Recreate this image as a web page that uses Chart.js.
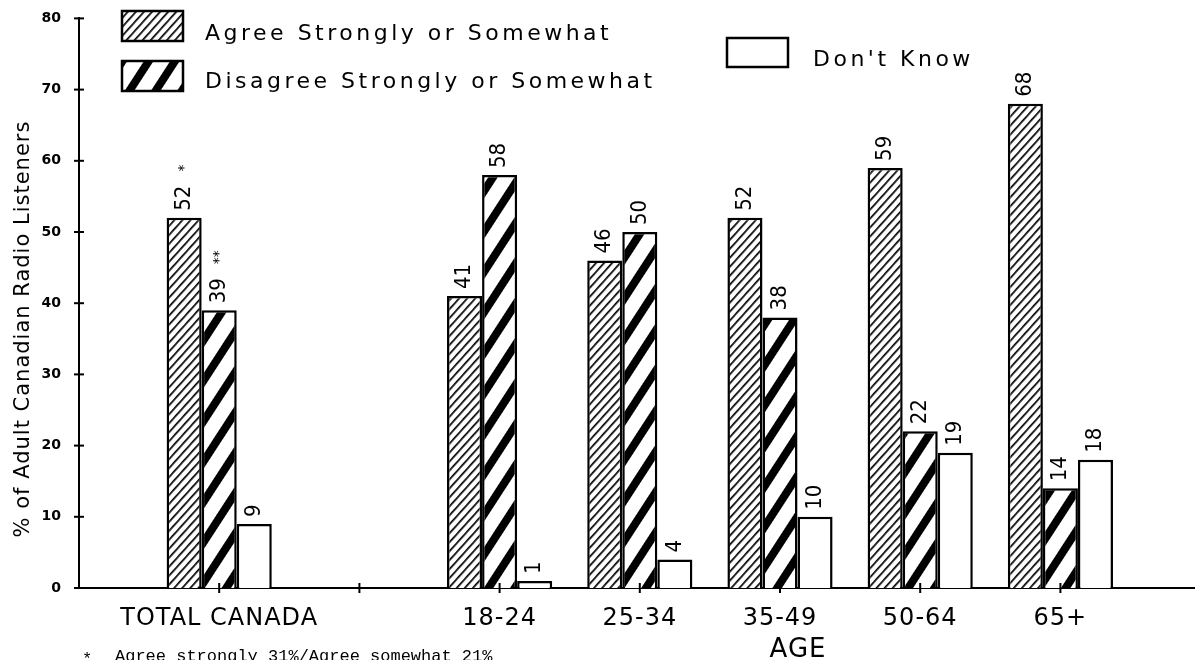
<!DOCTYPE html>
<html>
<head>
<meta charset="utf-8">
<script src="https://cdn.jsdelivr.net/npm/chart.js@4/dist/chart.umd.min.js"></script>
<style>
  html, body { margin: 0; padding: 0; background: #fff; }
</style>
</head>
<body>
<canvas id="grafico" width="1195" height="660"></canvas>
<script>
var categorias = ['TOTAL CANADA', '', '18-24', '25-34', '35-49', '50-64', '65+'];
var concorda = [52, null, 41, 46, 52, 59, 68];
var discorda = [39, null, 58, 50, 38, 22, 14];
var naoSabe = [9, null, 1, 4, 10, 19, 18];
var notasConcorda = ['*', '', '', '', '', '', ''];
var notasDiscorda = ['**', '', '', '', '', '', ''];
var legendas = ['Agree Strongly or Somewhat', 'Disagree Strongly or Somewhat', "Don't Know"];
var marcasY = [0, 10, 20, 30, 40, 50, 60, 70, 80];
var tituloY = '% of Adult Canadian Radio Listeners';
var tituloX = 'AGE';
var notaRodape = 'Agree strongly 31%/Agree somewhat 21%';

var canvas = document.getElementById('grafico');
var ctx = canvas.getContext('2d');

// hachuras: listras verticais giradas
function criarHachura(periodo, espessura, angulo) {
    var tile = document.createElement('canvas');
    tile.width = periodo;
    tile.height = periodo;
    var c = tile.getContext('2d');
    c.fillStyle = '#fff';
    c.fillRect(0, 0, periodo, periodo);
    c.fillStyle = '#000';
    c.fillRect(0, 0, espessura, periodo);
    var p = ctx.createPattern(tile, 'repeat');
    p.setTransform(new DOMMatrix().rotate(angulo));
    return p;
}

var hachuraFina = criarHachura(6, 1.7, 42);
var hachuraGrossa = criarHachura(22, 8, 33);

function pontos(valores) {
    return valores.map(function (v, i) { return { x: i, y: v }; });
}

function textoGirado(texto, x, y) {
    ctx.save();
    ctx.translate(x, y);
    ctx.rotate(-Math.PI / 2);
    ctx.fillText(texto, 0, 0);
    ctx.restore();
}

function caixaLegenda(x0, y0, w, h, preenchimento) {
    ctx.fillStyle = preenchimento;
    ctx.fillRect(x0, y0, w, h);
    ctx.lineWidth = 2.5;
    ctx.strokeStyle = '#000';
    ctx.strokeRect(x0, y0, w, h);
}

var desenhosExtras = {
    id: 'desenhosExtras',
    afterDraw: function (chart) {
        var x = chart.scales.x;
        var y = chart.scales.y;
        ctx.save();
        ctx.strokeStyle = '#000';
        ctx.fillStyle = '#000';
        ctx.lineWidth = 2;

        marcasY.forEach(function (v) {
            var py = y.getPixelForValue(v);
            ctx.beginPath();
            ctx.moveTo(x.left - 5, py);
            ctx.lineTo(x.left + 5, py);
            ctx.stroke();
        });

        ctx.font = '24px "DejaVu Sans"';
        ctx.letterSpacing = '1px';
        ctx.textAlign = 'center';
        ctx.textBaseline = 'middle';
        categorias.forEach(function (c, i) {
            var px = x.getPixelForValue(i);
            ctx.beginPath();
            ctx.moveTo(px, y.bottom - 5);
            ctx.lineTo(px, y.bottom + 5);
            ctx.stroke();
            ctx.fillText(c, px, 619);
        });

        // valores em cima das barras
        ctx.letterSpacing = '0px';
        ctx.textAlign = 'left';
        var series = [concorda, discorda, naoSabe];
        var notas = [notasConcorda, notasDiscorda, null];
        series.forEach(function (valores, d) {
            var meta = chart.getDatasetMeta(d);
            valores.forEach(function (v, i) {
                if (v === null) return;
                var barra = meta.data[i];
                ctx.font = '22px "Liberation Sans Narrow", "DejaVu Sans Condensed", sans-serif';
                var largura = ctx.measureText(String(v)).width;
                textoGirado(String(v), barra.x, barra.y - 7);
                if (notas[d] && notas[d][i]) {
                    ctx.font = '14px "DejaVu Sans"';
                    textoGirado(notas[d][i], barra.x, barra.y - 7 - largura - 14);
                }
            });
        });

        // legenda
        caixaLegenda(122, 11, 61, 30, hachuraFina);
        caixaLegenda(122, 61, 61, 30, hachuraGrossa);
        caixaLegenda(727, 38, 61, 29, '#fff');
        ctx.fillStyle = '#000';
        ctx.font = '22px "DejaVu Sans"';
        ctx.letterSpacing = '3.5px';
        ctx.textAlign = 'left';
        ctx.fillText(legendas[0], 205, 34);
        ctx.fillText(legendas[1], 205, 82);
        ctx.fillText(legendas[2], 813, 60);

        // titulo do eixo y
        ctx.font = '21px "DejaVu Sans"';
        ctx.letterSpacing = '1px';
        ctx.textAlign = 'center';
        textoGirado(tituloY, 24, 329);

        ctx.font = '26px "DejaVu Sans"';
        ctx.letterSpacing = '1px';
        ctx.fillText(tituloX, 798, 650);

        ctx.font = '17px "Liberation Mono"';
        ctx.letterSpacing = '0px';
        ctx.textAlign = 'left';
        ctx.textBaseline = 'alphabetic';
        ctx.fillText('*', 82, 664);
        ctx.fillText(notaRodape, 115, 661);
        ctx.restore();
    }
};

var grafico = new Chart(ctx, {
    type: 'bar',
    data: {
        datasets: [{
            data: pontos(concorda),
            backgroundColor: hachuraFina,
            borderColor: '#000',
            borderWidth: 2.5
        }, {
            data: pontos(discorda),
            backgroundColor: hachuraGrossa,
            borderColor: '#000',
            borderWidth: 2.5
        }, {
            data: pontos(naoSabe),
            backgroundColor: '#fff',
            borderColor: '#000',
            borderWidth: 2.5
        }]
    },
    options: {
        responsive: false,
        animation: false,
        devicePixelRatio: 1,
        categoryPercentage: 0.75,
        barPercentage: 1,
        layout: { padding: { top: 16, right: 0, left: 0, bottom: 0 } },
        plugins: { legend: { display: false }, tooltip: { enabled: false } },
        scales: {
            x: {
                type: 'linear',
                offset: false,
                min: -1,
                max: 6.96,
                ticks: { display: false, stepSize: 1, includeBounds: false },
                grid: { display: false },
                border: { display: true, color: '#000', width: 2 },
                afterFit: function (s) { s.height = 72; }
            },
            y: {
                min: 0,
                max: 80,
                ticks: {
                    stepSize: 10,
                    color: '#000',
                    padding: 10,
                    font: { family: 'DejaVu Sans', size: 14, weight: 'bold' }
                },
                grid: { display: false },
                border: { display: true, color: '#000', width: 2 },
                afterFit: function (s) { s.width = 79; }
            }
        }
    },
    plugins: [desenhosExtras]
});
</script>
</body>
</html>
